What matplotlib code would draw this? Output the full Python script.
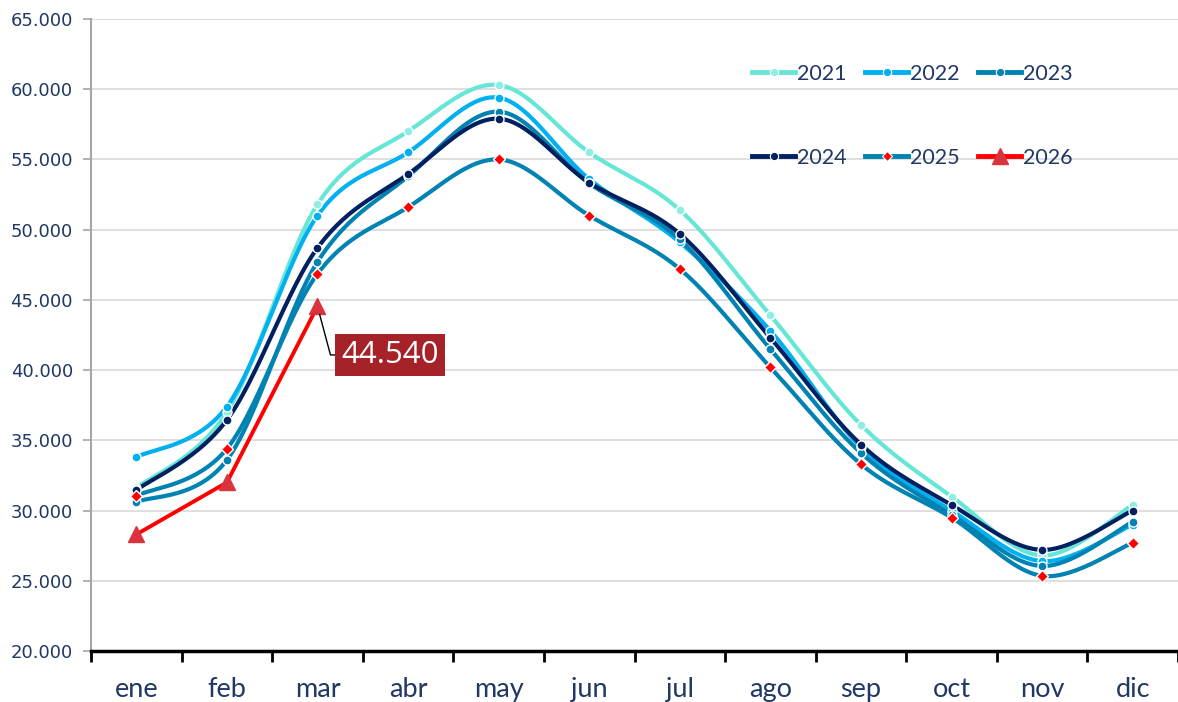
import numpy as np
import matplotlib
matplotlib.use("Agg")
import matplotlib.pyplot as plt
from matplotlib.ticker import FuncFormatter, FixedLocator

months = ['ene', 'feb', 'mar', 'abr', 'may', 'jun', 'jul', 'ago', 'sep', 'oct', 'nov', 'dic']
v2021 = [31600, 37000, 51800, 57000, 60300, 55500, 51400, 43900, 36100, 31000, 26800, 30400]
v2022 = [33800, 37400, 51000, 55500, 59400, 53600, 49100, 42800, 34500, 30000, 26400, 29000]
v2023 = [30600, 33600, 47700, 53800, 58400, 53300, 49300, 41500, 34100, 29700, 26050, 29200]
v2024 = [31450, 36450, 48700, 53950, 57900, 53350, 49700, 42300, 34700, 30400, 27200, 30000]
v2025 = [31050, 34400, 46850, 51600, 55000, 51000, 47200, 40200, 33300, 29500, 25350, 27700]
v2026 = [28300, 32000, 44540]

navy = '#1F3864'


def smooth(y, n=30):
    # bezier through the points, like excel's smoothed line
    y = np.asarray(y, dtype=float)
    x = np.arange(len(y), dtype=float)
    P = np.column_stack([x, y])
    P = np.vstack([P[0], P, P[-1]])
    out = []
    t = np.linspace(0, 1, n)[:, None]
    for i in range(1, len(P) - 2):
        p0, p1, p2, p3 = P[i - 1], P[i], P[i + 1], P[i + 2]
        c1 = p1 + (p2 - p0) / 6
        c2 = p2 - (p3 - p1) / 6
        seg = (1 - t) ** 3 * p1 + 3 * (1 - t) ** 2 * t * c1 + 3 * (1 - t) * t ** 2 * c2 + t ** 3 * p2
        out.append(seg if i == 1 else seg[1:])
    out = np.vstack(out)
    return out[:, 0], out[:, 1]


fig = plt.figure(figsize=(11.78, 7.02), dpi=100)
ax = fig.add_axes([91 / 1178, 51 / 702, 1087 / 1178, 632 / 702])

series = [
    ('2021', v2021, '#66E6D6', '#8FEDE2', 'o', 6.5),
    ('2022', v2022, '#00B0F0', '#00B0F0', 'o', 6.5),
    ('2023', v2023, '#0083B3', '#0083B3', 'o', 6.5),
    ('2024', v2024, '#002060', '#002060', 'o', 6.5),
    ('2025', v2025, '#0083B3', '#FF0000', 'D', 6),
]

handles = {}
for name, vals, lc, mc, mk, ms in series:
    xs, ys = smooth(vals)
    ax.plot(xs, ys, color=lc, lw=3, solid_capstyle='round', zorder=3)
    ax.plot(np.arange(len(vals)), vals, ls='none', marker=mk, ms=ms,
            mfc=mc, mec='white', mew=1.0, zorder=4)
    h, = ax.plot([], [], color=lc, lw=3.5, marker=mk, ms=ms - 0.5, mfc=mc, mec='white', mew=0.8)
    handles[name] = h

ax.plot(np.arange(len(v2026)), v2026, color='#FF0000', lw=2.8, marker='^', ms=11,
        mfc='#D9333F', mec='#D9333F', zorder=5)
h, = ax.plot([], [], color='#FF0000', lw=3.5, marker='^', ms=11, mfc='#D9333F', mec='#D9333F')
handles['2026'] = h

ax.annotate(f"{v2026[-1]:,}".replace(',', '.'), xy=(len(v2026) - 1, v2026[-1]),
            xytext=(17, -35), textcoords='offset points', ha='left', va='center',
            fontsize=22.5, color='white', family='Open Sans',
            bbox=dict(boxstyle='square,pad=0.2', fc='#A52228', ec='none'),
            arrowprops=dict(arrowstyle='-', color='black', lw=1,
                            connectionstyle='angle,angleA=180,angleB=-75,rad=0',
                            shrinkA=0, shrinkB=6),
            zorder=6)

ax.set_xlim(-0.5, 11.5)
ax.set_ylim(20000, 65000)
ax.set_yticks(np.arange(20000, 65001, 5000))
ax.yaxis.set_major_formatter(FuncFormatter(lambda v, p: f"{v:,.0f}".replace(',', '.')))
ax.grid(axis='y', color='#D9D9D9', lw=1.2)
ax.set_axisbelow(True)

ax.xaxis.set_major_locator(FixedLocator(np.arange(-0.5, 12, 1)))
ax.xaxis.set_minor_locator(FixedLocator(np.arange(12)))
ax.set_xticklabels([], minor=False)
ax.set_xticklabels(months, minor=True)
ax.tick_params(axis='x', which='major', direction='out', length=8, width=2, color='black')
ax.tick_params(axis='x', which='minor', length=0, pad=19, labelsize=19.5, labelcolor=navy)
for lab in ax.get_xticklabels(minor=True):
    lab.set_family('Lato')
ax.tick_params(axis='y', direction='out', length=6, width=1.2, color='#A6A6A6',
               labelsize=13, labelcolor=navy, pad=7)

for s in ['top', 'right']:
    ax.spines[s].set_visible(False)
ax.spines['left'].set_color('#A6A6A6')
ax.spines['left'].set_linewidth(1.5)
ax.spines['bottom'].set_color('black')
ax.spines['bottom'].set_linewidth(2.5)

# legend fills column by column, so order it to read 2021-2023 on top
order = ['2021', '2024', '2022', '2025', '2023', '2026']
leg = ax.legend([handles[k] for k in order], order, ncol=3,
                loc='upper left', bbox_to_anchor=(752 / 1178, 1 - 64 / 702),
                bbox_transform=fig.transFigure, frameon=False, borderpad=0,
                borderaxespad=0, handlelength=2.0, handletextpad=0.1,
                columnspacing=0.85, labelspacing=2.95,
                prop={'family': 'Lato', 'size': 15.5})
for t in leg.get_texts():
    t.set_color(navy)

fig.savefig('out.png', dpi=100)
